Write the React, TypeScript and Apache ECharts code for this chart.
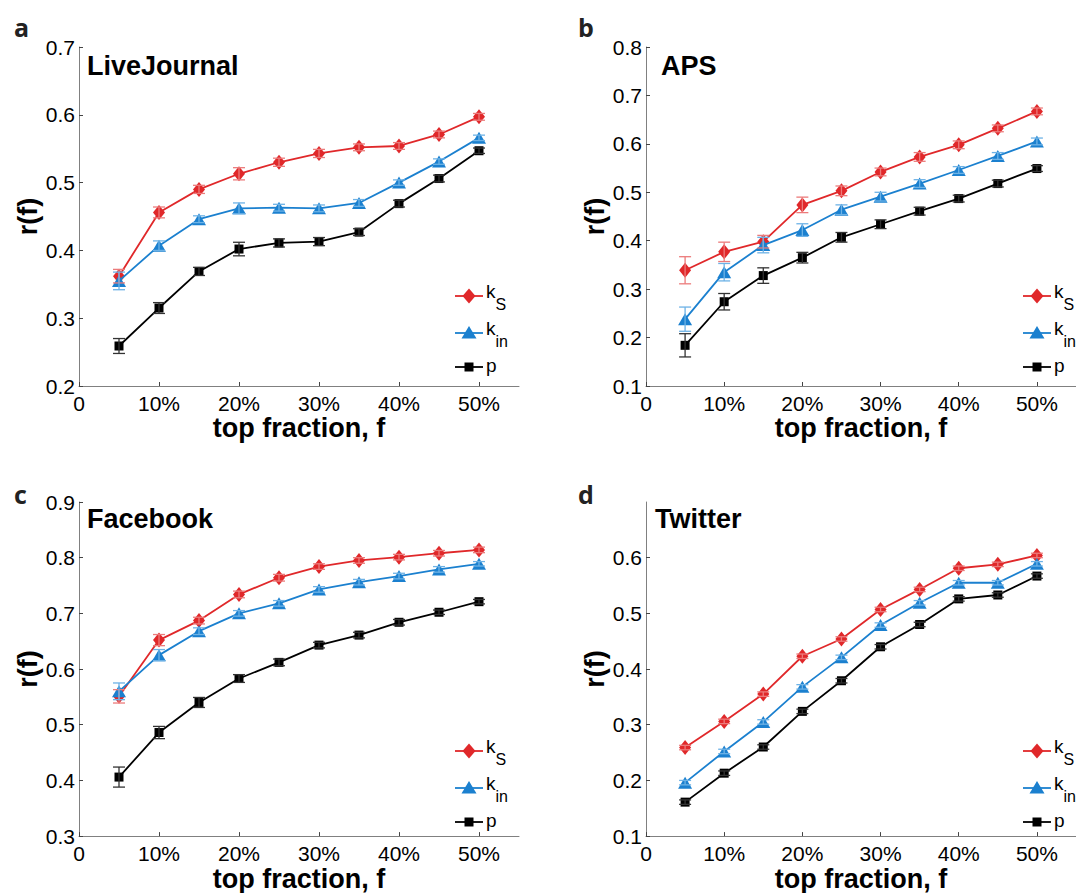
import React, { useEffect, useRef } from "react";
import * as echarts from "echarts";

const fractions = [0.05, 0.1, 0.15, 0.2, 0.25, 0.3, 0.35, 0.4, 0.45, 0.5];
const xTicks = [0, 0.1, 0.2, 0.3, 0.4, 0.5];

const panelNames = ["LiveJournal", "APS", "Facebook", "Twitter"];
const panelLetters = ["a", "b", "c", "d"];
const seriesNames = ["kS", "kin", "p"];
const legendMain = ["k", "k", "p"];
const legendSub = ["S", "in", ""];

// LiveJournal
const ljKs = [0.362, 0.456, 0.49, 0.513, 0.53, 0.543, 0.552, 0.554, 0.571, 0.597];
const ljKin = [0.355, 0.407, 0.446, 0.462, 0.463, 0.462, 0.47, 0.5, 0.531, 0.566];
const ljP = [0.259, 0.315, 0.369, 0.402, 0.411, 0.413, 0.427, 0.469, 0.506, 0.547];
const ljKsErr = [0.01, 0.008, 0.006, 0.009, 0.006, 0.006, 0.005, 0.005, 0.005, 0.005];
const ljKinErr = [0.013, 0.007, 0.005, 0.008, 0.005, 0.005, 0.005, 0.004, 0.004, 0.004];
const ljPErr = [0.011, 0.008, 0.006, 0.01, 0.006, 0.006, 0.005, 0.005, 0.005, 0.004];

// APS
const apsKs = [0.339, 0.377, 0.398, 0.474, 0.503, 0.542, 0.573, 0.598, 0.632, 0.667];
const apsKin = [0.238, 0.335, 0.391, 0.422, 0.464, 0.491, 0.518, 0.546, 0.575, 0.605];
const apsP = [0.184, 0.274, 0.328, 0.365, 0.407, 0.434, 0.461, 0.487, 0.518, 0.549];
const apsKsErr = [0.028, 0.02, 0.013, 0.016, 0.01, 0.008, 0.009, 0.008, 0.007, 0.007];
const apsKinErr = [0.025, 0.018, 0.016, 0.013, 0.01, 0.009, 0.008, 0.007, 0.007, 0.007];
const apsPErr = [0.024, 0.017, 0.016, 0.011, 0.01, 0.009, 0.008, 0.007, 0.007, 0.006];

// Facebook
const fbKs = [0.551, 0.652, 0.687, 0.734, 0.764, 0.784, 0.795, 0.801, 0.808, 0.814];
const fbKin = [0.56, 0.625, 0.668, 0.7, 0.718, 0.743, 0.756, 0.767, 0.779, 0.789];
const fbP = [0.406, 0.486, 0.54, 0.583, 0.612, 0.643, 0.661, 0.684, 0.702, 0.721];
const fbKsErr = [0.012, 0.01, 0.006, 0.006, 0.006, 0.005, 0.005, 0.005, 0.005, 0.005];
const fbKinErr = [0.015, 0.01, 0.006, 0.005, 0.005, 0.005, 0.005, 0.005, 0.005, 0.004];
const fbPErr = [0.018, 0.011, 0.009, 0.007, 0.006, 0.005, 0.005, 0.005, 0.004, 0.004];

// Twitter
const twKs = [0.259, 0.306, 0.355, 0.423, 0.454, 0.507, 0.543, 0.581, 0.588, 0.604];
const twKin = [0.196, 0.252, 0.305, 0.368, 0.421, 0.479, 0.519, 0.555, 0.555, 0.589];
const twP = [0.161, 0.213, 0.26, 0.324, 0.379, 0.44, 0.48, 0.526, 0.533, 0.567];
const twKsErr = [0.004, 0.004, 0.004, 0.004, 0.004, 0.004, 0.004, 0.004, 0.004, 0.004];
const twKinErr = [0.004, 0.004, 0.004, 0.004, 0.004, 0.004, 0.004, 0.004, 0.004, 0.004];
const twPErr = [0.004, 0.004, 0.004, 0.004, 0.004, 0.004, 0.004, 0.004, 0.004, 0.004];

const yMins = [0.2, 0.1, 0.3, 0.1];
const yMaxs = [0.7, 0.8, 0.9, 0.7];
const yTickValues = [
  [0.2, 0.3, 0.4, 0.5, 0.6, 0.7],
  [0.1, 0.2, 0.3, 0.4, 0.5, 0.6, 0.7, 0.8],
  [0.3, 0.4, 0.5, 0.6, 0.7, 0.8, 0.9],
  [0.1, 0.2, 0.3, 0.4, 0.5, 0.6],
];

const panelData = [
  [ljKs, ljKin, ljP],
  [apsKs, apsKin, apsP],
  [fbKs, fbKin, fbP],
  [twKs, twKin, twP],
];
const panelErr = [
  [ljKsErr, ljKinErr, ljPErr],
  [apsKsErr, apsKinErr, apsPErr],
  [fbKsErr, fbKinErr, fbPErr],
  [twKsErr, twKinErr, twPErr],
];

const COLORS = ["#e0282a", "#1b80cf", "#000000"];
const ERR_COLORS = ["#ec7b7b", "#6db2e6", "#333333"];
const SYMBOLS = ["diamond", "triangle", "rect"];
const SYMBOL_SIZES: any[] = [[12, 15], [14, 12], [9, 9]];

const FONT = "'Liberation Sans', Arial, Helvetica, sans-serif";

const grids = [
  { left: 79, top: 47, width: 440, height: 339 },
  { left: 646, top: 47, width: 441, height: 339 },
  { left: 79, top: 502, width: 440, height: 338 },
  { left: 646, top: 502, width: 441, height: 338 },
];
const titleOffsets = [
  { dx: 8, dy: 5 },
  { dx: 15, dy: 5 },
  { dx: 8, dy: 3 },
  { dx: 9, dy: 3 },
];
const letterPos = [
  { left: 14, top: 14 },
  { left: 578, top: 14 },
  { left: 14, top: 481 },
  { left: 578, top: 481 },
];
// legend anchor: left end of the sample line, y of first row
const legendAnchor = [
  { x: 455, y: 296 },
  { x: 1023, y: 296 },
  { x: 455, y: 751 },
  { x: 1023, y: 751 },
];
const legendRowOffsets = [0, 37, 71];

function legendMarker(s: number, cx: number, cy: number) {
  if (s === 0) {
    return {
      type: "polygon",
      shape: { points: [[cx, cy - 7.5], [cx + 6.5, cy], [cx, cy + 7.5], [cx - 6.5, cy]] },
      style: { fill: COLORS[s] },
    };
  }
  if (s === 1) {
    return {
      type: "polygon",
      shape: { points: [[cx, cy - 7], [cx + 7.5, cy + 5.5], [cx - 7.5, cy + 5.5]] },
      style: { fill: COLORS[s] },
    };
  }
  return { type: "rect", shape: { x: cx - 4.5, y: cy - 4.5, width: 9, height: 9 }, style: { fill: COLORS[s] } };
}

function buildOption() {
  const xAxis: any[] = [];
  const yAxis: any[] = [];
  const series: any[] = [];
  const titles: any[] = [];
  const graphics: any[] = [];

  for (let i = 0; i < 4; i++) {
    xAxis.push({
      type: "value",
      gridIndex: i,
      min: 0,
      max: 0.55,
      interval: 0.1,
      name: "top fraction, f",
      nameLocation: "middle",
      nameGap: 24,
      nameTextStyle: { fontFamily: FONT, fontWeight: "bold", fontSize: 27, color: "#000" },
      axisLine: { show: true, lineStyle: { color: "#808080", width: 1 } },
      axisTick: { show: true, inside: true, length: 4, lineStyle: { color: "#444" }, customValues: xTicks },
      axisLabel: {
        customValues: xTicks,
        fontFamily: FONT,
        fontSize: 21,
        color: "#000",
        margin: 7,
        formatter: (v: number) => (v === 0 ? "0" : Math.round(v * 100) + "%"),
      },
      splitLine: { show: false },
    });
    yAxis.push({
      type: "value",
      gridIndex: i,
      min: yMins[i],
      max: yMaxs[i],
      interval: 0.1,
      name: "r(f)",
      nameLocation: "middle",
      nameGap: 38,
      nameRotate: 90,
      nameTextStyle: { fontFamily: FONT, fontWeight: "bold", fontSize: 27, color: "#000" },
      axisLine: { show: true, lineStyle: { color: "#808080", width: 1 } },
      axisTick: { show: true, inside: true, length: 4, lineStyle: { color: "#444" }, customValues: yTickValues[i] },
      axisLabel: {
        customValues: yTickValues[i],
        fontFamily: FONT,
        fontSize: 21,
        color: "#000",
        margin: 4,
        formatter: (v: number) => v.toFixed(1),
      },
      splitLine: { show: false },
    });

    titles.push({
      text: panelNames[i],
      left: grids[i].left + titleOffsets[i].dx,
      top: grids[i].top + titleOffsets[i].dy,
      textStyle: { fontFamily: FONT, fontWeight: "bold", fontSize: 27, color: "#000" },
      padding: 0,
    });
    titles.push({
      text: panelLetters[i],
      left: letterPos[i].left,
      top: letterPos[i].top,
      textStyle: { fontFamily: "'Open Sans', sans-serif", fontWeight: "bold", fontSize: 25, color: "#222" },
      padding: 0,
    });

    for (let s = 0; s < 3; s++) {
      const vals = panelData[i][s];
      series.push({
        type: "line",
        name: seriesNames[s],
        xAxisIndex: i,
        yAxisIndex: i,
        data: fractions.map((f, k) => [f, vals[k]]),
        symbol: SYMBOLS[s],
        symbolSize: SYMBOL_SIZES[s],
        showSymbol: true,
        lineStyle: { color: COLORS[s], width: 1.8 },
        itemStyle: { color: COLORS[s] },
        z: 3 + s,
      });
    }
    for (let s = 0; s < 3; s++) {
      const vals = panelData[i][s];
      const errs = panelErr[i][s];
      series.push({
        type: "custom",
        name: "err-" + seriesNames[s],
        xAxisIndex: i,
        yAxisIndex: i,
        data: fractions.map((f, k) => [f, vals[k] - errs[k], vals[k] + errs[k]]),
        z: 10,
        silent: true,
        renderItem: (params: any, api: any) => {
          const x = api.value(0);
          const lo = api.coord([x, api.value(1)]);
          const hi = api.coord([x, api.value(2)]);
          const hw = 6;
          const st = { stroke: ERR_COLORS[s], lineWidth: 1.3, fill: null };
          return {
            type: "group",
            children: [
              { type: "line", shape: { x1: lo[0], y1: lo[1], x2: hi[0], y2: hi[1] }, style: st },
              { type: "line", shape: { x1: lo[0] - hw, y1: lo[1], x2: lo[0] + hw, y2: lo[1] }, style: st },
              { type: "line", shape: { x1: hi[0] - hw, y1: hi[1], x2: hi[0] + hw, y2: hi[1] }, style: st },
            ],
          };
        },
      });
    }

    // legend (drawn with graphic elements to get sub-scripts and marker sizes right)
    const a = legendAnchor[i];
    for (let s = 0; s < 3; s++) {
      const y = a.y + legendRowOffsets[s];
      graphics.push({
        type: "group",
        silent: true,
        children: [
          { type: "line", shape: { x1: a.x, y1: y, x2: a.x + 28, y2: y }, style: { stroke: COLORS[s], lineWidth: 1.8 } },
          legendMarker(s, a.x + 14, y),
          {
            type: "text",
            x: a.x + 31,
            y: s === 2 ? y - 2 : y - 5,
            style: {
              text: legendMain[s],
              fontFamily: FONT,
              fontSize: 19,
              fill: "#000",
              align: "left",
              verticalAlign: "middle",
            },
          },
          ...(legendSub[s]
            ? [
                {
                  type: "text",
                  x: a.x + 40.5,
                  y: y + 8.5,
                  style: {
                    text: legendSub[s],
                    fontFamily: FONT,
                    fontSize: 16,
                    fill: "#000",
                    align: "left",
                    verticalAlign: "middle",
                  },
                },
              ]
            : []),
        ],
      });
    }
  }

  return {
    animation: false,
    backgroundColor: "#fff",
    title: titles,
    graphic: graphics,
    grid: grids.map((g) => ({ ...g, containLabel: false })),
    xAxis,
    yAxis,
    series,
  };
}

export default function App() {
  const ref = useRef<HTMLDivElement>(null);
  useEffect(() => {
    if (!ref.current) return;
    const chart = echarts.init(ref.current, null, { renderer: "svg" });
    chart.setOption(buildOption() as any);
    return () => chart.dispose();
  }, []);
  return (
    <div
      ref={ref}
      style={{ position: "absolute", left: 0, top: 0, width: 1076, height: 893, background: "#fff", overflow: "hidden" }}
    />
  );
}
